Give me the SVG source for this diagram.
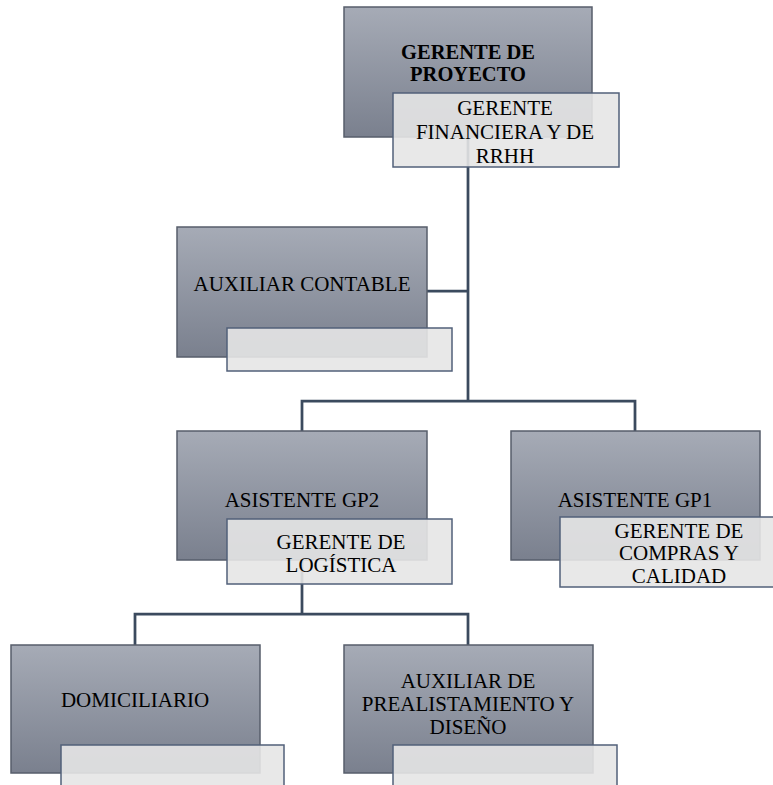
<svg xmlns="http://www.w3.org/2000/svg" width="773" height="785" viewBox="0 0 773 785">
  <defs>
    <linearGradient id="darkFill" x1="0" y1="0" x2="0" y2="1">
      <stop offset="0" stop-color="#a6abb6"/>
      <stop offset="1" stop-color="#7a808e"/>
    </linearGradient>
    <style>
      .dark { fill: url(#darkFill); stroke: #575e6b; stroke-width: 1.5; }
      .light { fill: #e5e5e5; fill-opacity: 0.9; stroke: #52607a; stroke-width: 1.5; }
      .conn { fill: none; stroke: #3b4a5e; stroke-width: 2.75; stroke-linejoin: miter; }
      .lbl { font-family: 'Liberation Serif', 'DejaVu Serif', serif; font-size: 21px; fill: #000000; text-anchor: middle; }
      .bold { font-weight: bold; font-size: 20.5px; }
    </style>
  </defs>
  <rect width="773" height="785" fill="#ffffff"/>

  <!-- connectors (drawn beneath the nodes) -->
  <g id="connectors">
    <path class="conn" d="M468 137 V401"/>
    <path class="conn" d="M427 291 H468"/>
    <path class="conn" d="M302 431 V401 H635 V431"/>
    <path class="conn" d="M302 560 V614"/>
    <path class="conn" d="M135 645 V614 H468 V645"/>
  </g>

  <g id="gerente-proyecto" font-family="Liberation Serif, DejaVu Serif, serif">
    <rect class="dark" x="344" y="7" width="248" height="130"/>
    <text class="lbl bold" x="468" y="59">GERENTE DE</text>
    <text class="lbl bold" x="468" y="81">PROYECTO</text>
    <rect class="light" x="393" y="93" width="226" height="74"/>
    <text class="lbl" x="505" y="115">GERENTE</text>
    <text class="lbl" x="505" y="139">FINANCIERA Y DE</text>
    <text class="lbl" x="505" y="163">RRHH</text>
  </g>

  <g id="auxiliar-contable" font-family="Liberation Serif, DejaVu Serif, serif">
    <rect class="dark" x="177" y="227" width="250" height="130"/>
    <text class="lbl" x="302" y="291">AUXILIAR CONTABLE</text>
    <rect class="light" x="227" y="328" width="225" height="43"/>
  </g>

  <g id="asistente-gp2" font-family="Liberation Serif, DejaVu Serif, serif">
    <rect class="dark" x="177" y="431" width="250" height="129"/>
    <text class="lbl" x="302" y="507">ASISTENTE GP2</text>
    <rect class="light" x="227" y="519" width="225" height="65"/>
    <text class="lbl" x="341" y="549">GERENTE DE</text>
    <text class="lbl" x="341" y="572">LOGÍSTICA</text>
  </g>

  <g id="asistente-gp1" font-family="Liberation Serif, DejaVu Serif, serif">
    <rect class="dark" x="511" y="431" width="249" height="129"/>
    <text class="lbl" x="635" y="507">ASISTENTE GP1</text>
    <rect class="light" x="560" y="517" width="230" height="70"/>
    <text class="lbl" x="679" y="538">GERENTE DE</text>
    <text class="lbl" x="679" y="560">COMPRAS Y</text>
    <text class="lbl" x="679" y="583">CALIDAD</text>
  </g>

  <g id="domiciliario" font-family="Liberation Serif, DejaVu Serif, serif">
    <rect class="dark" x="11" y="645" width="249" height="128"/>
    <text class="lbl" x="135" y="707">DOMICILIARIO</text>
    <rect class="light" x="61" y="745" width="223" height="50"/>
  </g>

  <g id="auxiliar-prealistamiento" font-family="Liberation Serif, DejaVu Serif, serif">
    <rect class="dark" x="344" y="645" width="249" height="128"/>
    <text class="lbl" x="468" y="688">AUXILIAR DE</text>
    <text class="lbl" x="468" y="711">PREALISTAMIENTO Y</text>
    <text class="lbl" x="468" y="734">DISEÑO</text>
    <rect class="light" x="393" y="745" width="224" height="50"/>
  </g>
</svg>
